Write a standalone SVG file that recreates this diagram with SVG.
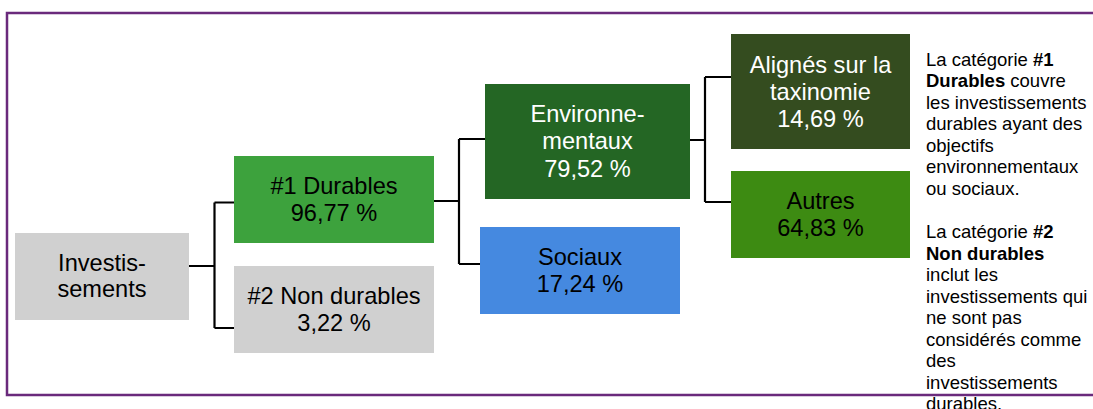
<svg xmlns="http://www.w3.org/2000/svg" width="1093" height="409" viewBox="0 0 1093 409">
<style>
.t{font-family:"Liberation Sans",Arial,sans-serif;font-size:23.6px;text-anchor:middle;fill:#000}
.w{fill:#fff}
.n{font-family:"Liberation Sans",Arial,sans-serif;font-size:18.5px;fill:#000}
.c{fill:none;stroke:#000;stroke-width:2.2}
</style>
<rect width="1093" height="409" fill="#fff"/>
<path d="M1100 13 H7 V395 H1100" fill="none" stroke="#6a2a7c" stroke-width="2.5"/>
<g id="connectors" class="c">
<path d="M189 266 H214.5 M214.5 202.5 V328 M214.5 202.5 H234 M214.5 328 H234"/>
<path d="M434 201 H459 M459 139 V264 M459 139 H485 M459 264 H480"/>
<path d="M690 140 H705 M705 77 V202 M705 77 H731 M705 202 H731"/>
</g>
<g id="investissements">
<rect x="15" y="233" width="174" height="87" fill="#d0d0d0"/>
<text class="t" x="102" y="270.7">Investis-</text>
<text class="t" x="102" y="297.3">sements</text>
</g>
<g id="durables">
<rect x="234" y="156" width="200" height="87" fill="#3da23d"/>
<text class="t" x="334" y="194">#1 Durables</text>
<text class="t" x="334" y="220.7">96,77 %</text>
</g>
<g id="non-durables">
<rect x="234" y="266" width="200" height="87" fill="#d0d0d0"/>
<text class="t" x="334" y="304">#2 Non durables</text>
<text class="t" x="334" y="330.5">3,22 %</text>
</g>
<g id="environnementaux">
<rect x="485" y="84" width="205" height="115" fill="#246624"/>
<text class="t w" x="587.5" y="121.7">Environne-</text>
<text class="t w" x="587.5" y="149">mentaux</text>
<text class="t w" x="587.5" y="176.7">79,52 %</text>
</g>
<g id="sociaux">
<rect x="480" y="227" width="200" height="87" fill="#4589e0"/>
<text class="t" x="580" y="265">Sociaux</text>
<text class="t" x="580" y="291.7">17,24 %</text>
</g>
<g id="alignes">
<rect x="731" y="34" width="179" height="115" fill="#344c1f"/>
<text class="t w" x="820.5" y="72.7">Alignés sur la</text>
<text class="t w" x="820.5" y="99.5">taxinomie</text>
<text class="t w" x="820.5" y="127">14,69 %</text>
</g>
<g id="autres">
<rect x="731" y="171" width="179" height="87" fill="#3d8b12"/>
<text class="t" x="820.5" y="208.5">Autres</text>
<text class="t" x="820.5" y="236">64,83 %</text>
</g>
<g id="note">
<text class="n" x="926">
<tspan x="926" y="65.7">La catégorie <tspan font-weight="bold">#1</tspan></tspan>
<tspan x="926" y="87.2"><tspan font-weight="bold">Durables</tspan> couvre</tspan>
<tspan x="926" y="108.7">les investissements</tspan>
<tspan x="926" y="130.2">durables ayant des</tspan>
<tspan x="926" y="151.7">objectifs</tspan>
<tspan x="926" y="173.2">environnementaux</tspan>
<tspan x="926" y="194.7">ou sociaux.</tspan>
<tspan x="926" y="238.2">La catégorie <tspan font-weight="bold">#2</tspan></tspan>
<tspan x="926" y="259.7" font-weight="bold">Non durables</tspan>
<tspan x="926" y="281.2">inclut les</tspan>
<tspan x="926" y="302.7">investissements qui</tspan>
<tspan x="926" y="324.2">ne sont pas</tspan>
<tspan x="926" y="345.7">considérés comme</tspan>
<tspan x="926" y="367.2">des</tspan>
<tspan x="926" y="388.7">investissements</tspan>
<tspan x="926" y="410.2">durables.</tspan>
</text>
</g>
</svg>
